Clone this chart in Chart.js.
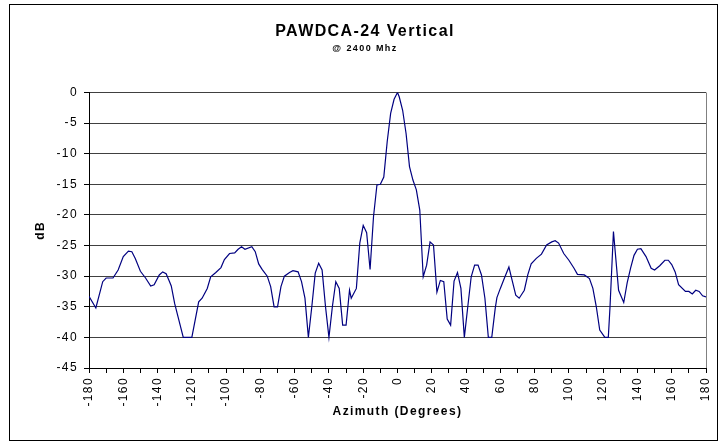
<!DOCTYPE html>
<html>
<head>
<meta charset="utf-8">
<script src="https://cdn.jsdelivr.net/npm/chart.js@4.4.1/dist/chart.umd.min.js"></script>
<style>
  body { margin: 0; background: #fff; }
  #wrap { width: 727px; height: 445px; }
</style>
</head>
<body>
<div id="wrap"><canvas id="patternChart" width="727" height="445"></canvas></div>
<script>
const azimuth = [
  -180, -176, -172, -170, -166, -163, -160, -157, -155, -153, -150, -147, -144, -142, -139, -137, -135, -133,
  -132, -130, -128, -125, -120, -116, -114, -111, -109, -106, -103, -101, -98, -95, -93, -91, -89, -85, -83,
  -81, -79, -76, -74, -72, -70, -68, -66, -63, -61, -58, -56, -54, -52, -50, -48, -46, -44, -42, -40, -38,
  -36, -34, -32, -30, -28, -27, -24, -22, -20, -18, -16, -14, -12, -10, -8, -6, -4, -2, 0, 1, 3, 5, 7, 9,
  11, 13, 15, 17, 19, 21, 23, 25, 27, 29, 31, 33, 35, 37, 39, 41, 43, 45, 47, 49, 51, 53, 55, 57, 58, 60,
  62, 65, 67, 69, 71, 74, 76, 78, 81, 84, 87, 90, 92, 94, 97, 100, 103, 105, 109, 112, 114, 116, 118, 121,
  123, 124, 126, 129, 132, 134, 136, 138, 140, 142, 145, 148, 150, 153, 156, 158, 160, 162, 164, 168, 170,
  172, 174, 176, 178, 180
];
const levelDb = [
  -33.3, -35.2, -30.9, -30.3, -30.3, -29, -26.8, -25.9, -26, -27.1, -29.2, -30.3, -31.6, -31.4, -29.8, -29.3, -29.6, -30.9,
  -31.6, -34.5, -36.7, -40, -40, -34.2, -33.6, -32, -30.1, -29.4, -28.6, -27.3, -26.3, -26.2, -25.6, -25.2, -25.6, -25.2, -26,
  -28, -28.9, -30, -31.7, -35, -35, -31.7, -30, -29.4, -29.1, -29.3, -30.9, -33.6, -40, -35, -29.5, -27.9, -29, -35, -40, -35,
  -30.9, -32, -38, -38, -32.3, -33.6, -32, -24.6, -21.7, -22.9, -28.9, -20.3, -15.1, -15, -13.8, -8, -3.4, -1.1, 0, -0.7, -2.9, -6.7, -12.1, -14.3,
  -15.9, -19.2, -30.1, -28.2, -24.4, -24.9, -32.6, -30.7, -30.9, -37, -38, -30.8, -29.4, -32, -40, -35, -30.1, -28.2, -28.2, -29.8, -33.6, -40, -40, -35.3, -33.5, -32,
  -30.6, -28.5, -30.8, -33.1, -33.6, -32.3, -29.8, -28, -27.1, -26.4, -24.9, -24.4, -24.2, -24.6, -26.3, -27.4, -28.7, -29.7, -29.8, -30.4, -32, -35, -38.8, -40,
  -40, -35, -22.7, -32.3, -34.3, -31.1, -28.7, -26.6, -25.6, -25.5, -26.8, -28.7, -29, -28.3, -27.4, -27.4, -28.1, -29.3, -31.4, -32.5, -32.5,
  -32.9, -32.3, -32.5, -33.2, -33.4
];
const yTicks = [0, -5, -10, -15, -20, -25, -30, -35, -40, -45];

// outer frame, wide-set lettering, right edge of plot area
const framePlugin = {
  id: 'frame',
  beforeDraw(chart) {
    const ctx = chart.ctx;
    ctx.save();
    ctx.fillStyle = '#fff';
    ctx.fillRect(0, 0, chart.width, chart.height);
    ctx.strokeStyle = '#000';
    ctx.lineWidth = 1;
    ctx.strokeRect(9.5, 4.5, 708, 436);
    ctx.restore();
    ctx.letterSpacing = '1.4px';
  },
  afterDatasetsDraw(chart) {
    const a = chart.chartArea;
    const ctx = chart.ctx;
    ctx.save();
    ctx.strokeStyle = '#808080';
    ctx.lineWidth = 1;
    ctx.beginPath();
    ctx.moveTo(Math.round(a.right) + 0.5, a.top);
    ctx.lineTo(Math.round(a.right) + 0.5, a.bottom);
    ctx.stroke();
    ctx.restore();
  },
  afterDraw(chart) {
    chart.ctx.letterSpacing = '0px';
  }
};

new Chart(document.getElementById('patternChart'), {
  type: 'line',
  data: {
    datasets: [{
      data: azimuth.map((a, i) => ({ x: a, y: levelDb[i] })),
      borderColor: '#000080',
      borderWidth: 1.2,
      pointRadius: 0,
      tension: 0,
      fill: false
    }]
  },
  options: {
    responsive: false,
    animation: false,
    layout: { padding: { left: 24, right: 21, top: 4, bottom: 4 }, autoPadding: false },
    plugins: {
      legend: { display: false },
      tooltip: { enabled: false },
      title: {
        display: true,
        text: 'PAWDCA-24 Vertical',
        color: '#000',
        font: { family: 'Liberation Sans, Arial, sans-serif', size: 16, weight: 'bold' },
        padding: { top: 18, bottom: 0 }
      },
      subtitle: {
        display: true,
        text: '@ 2400 Mhz',
        color: '#000',
        font: { family: 'Liberation Sans, Arial, sans-serif', size: 9, weight: 'bold' },
        padding: { top: 2, bottom: 38.5 }
      }
    },
    scales: {
      x: {
        type: 'linear',
        min: -180,
        max: 180,
        afterFit(scale) { scale.height = 73; },
        ticks: {
          stepSize: 10,
          autoSkip: false,
          minRotation: 90,
          maxRotation: 90,
          padding: 4,
          color: '#000',
          font: { family: 'Liberation Sans, Arial, sans-serif', size: 12 },
          callback: v => (v % 20 === 0 ? String(v) : '')
        },
        grid: { drawOnChartArea: false, drawTicks: true, tickLength: 5, tickColor: '#000' },
        border: { color: '#000', width: 1 },
        title: {
          display: true,
          text: 'Azimuth (Degrees)',
          color: '#000',
          font: { family: 'Liberation Sans, Arial, sans-serif', size: 12, weight: 'bold' },
          padding: { top: 0, bottom: 22 }
        }
      },
      y: {
        min: -45,
        max: 0,
        afterFit(scale) { scale.width = 65; },
        afterBuildTicks(scale) { scale.ticks = yTicks.map(v => ({ value: v })); },
        ticks: {
          padding: 6,
          color: '#000',
          font: { family: 'Liberation Sans, Arial, sans-serif', size: 12 }
        },
        grid: { color: '#404040', lineWidth: 1, drawTicks: true, tickLength: 5, tickColor: '#000' },
        border: { color: '#000', width: 1 },
        title: {
          display: true,
          text: 'dB',
          color: '#000',
          font: { family: 'Liberation Sans, Arial, sans-serif', size: 12, weight: 'bold' },
          padding: { top: 9, bottom: 0 }
        }
      }
    }
  },
  plugins: [framePlugin]
});
</script>
</body>
</html>
